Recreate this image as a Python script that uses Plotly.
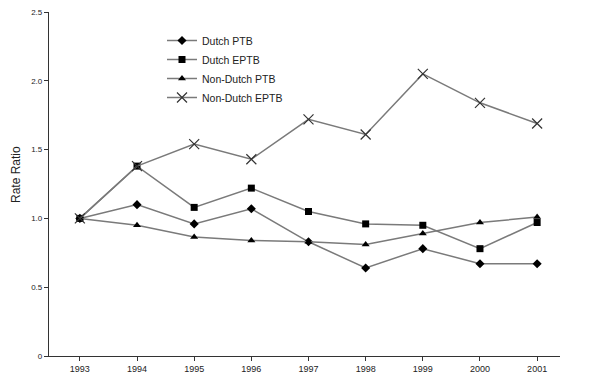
import plotly.graph_objects as go

years = [1993, 1994, 1995, 1996, 1997, 1998, 1999, 2000, 2001]
dutch_ptb = [1.00, 1.10, 0.96, 1.07, 0.83, 0.64, 0.78, 0.67, 0.67]
dutch_eptb = [1.00, 1.38, 1.08, 1.22, 1.05, 0.96, 0.95, 0.78, 0.97]
nondutch_ptb = [1.00, 0.95, 0.865, 0.84, 0.83, 0.81, 0.89, 0.97, 1.01]
nondutch_eptb = [1.00, 1.38, 1.54, 1.43, 1.72, 1.61, 2.05, 1.84, 1.69]
series_names = ["Dutch PTB", "Dutch EPTB", "Non-Dutch PTB", "Non-Dutch EPTB"]
ytick_vals = [0, 0.5, 1.0, 1.5, 2.0, 2.5]
ytick_text = ["0", "0.5", "1.0", "1.5", "2.0", "2.5"]

line_color = "#7a7a7a"
styles = [
    dict(symbol="diamond", size=7, color="black"),
    dict(symbol="square", size=7, color="black"),
    dict(symbol="triangle-up", size=7, color="black"),
    dict(symbol="x-thin", size=10, color="black", line=dict(width=1.2, color="#333")),
]

fig = go.Figure()
for name, vals, mk in zip(series_names, [dutch_ptb, dutch_eptb, nondutch_ptb, nondutch_eptb], styles):
    fig.add_trace(go.Scatter(
        x=years, y=vals, name=name, mode="lines+markers",
        line=dict(color=line_color, width=1.5),
        marker=mk,
    ))

L, R, T, B = 49, 50, 12, 19
pw = 610 - L - R
ph = 375 - T - B

fig.update_layout(
    width=610, height=375,
    autosize=False,
    margin=dict(l=L, r=R, t=T, b=B, pad=0, autoexpand=False),
    paper_bgcolor="white", plot_bgcolor="white",
    font=dict(family="Liberation Sans, Arial, sans-serif", color="#222", size=9),
    showlegend=True,
    legend=dict(
        x=(162 - L) / pw, y=1 - (26 - T) / ph, xanchor="left", yanchor="top",
        font=dict(size=10.5, color="#222"),
        bgcolor="rgba(0,0,0,0)",
        itemwidth=30, tracegroupgap=0,
    ),
    xaxis=dict(
        range=[1992.46, 2001.4], automargin=False,
        tickvals=years, ticktext=[str(y) for y in years],
        showline=True, linecolor="#333", linewidth=1.2,
        ticks="outside", ticklen=4, tickcolor="#333",
        showgrid=False, zeroline=False,
        tickfont=dict(size=9),
    ),
    yaxis=dict(
        range=[0, 2.5], automargin=False,
        tickvals=ytick_vals, ticktext=ytick_text,
        showline=True, linecolor="#333", linewidth=1.2,
        ticks="outside", ticklen=4, tickcolor="#333",
        showgrid=False, zeroline=False,
        tickfont=dict(size=8),
    ),
    annotations=[dict(
        text="Rate Ratio", x=(16 - L) / pw, y=(375 - B - 175) / ph,
        xref="paper", yref="paper", xanchor="center", yanchor="middle",
        showarrow=False, textangle=-90, font=dict(size=12, color="#222"),
    )],
)

fig.write_html(
    "out.html",
    config={"displayModeBar": False},
    post_script="document.body.style.margin='0';document.body.style.padding='0';",
)
